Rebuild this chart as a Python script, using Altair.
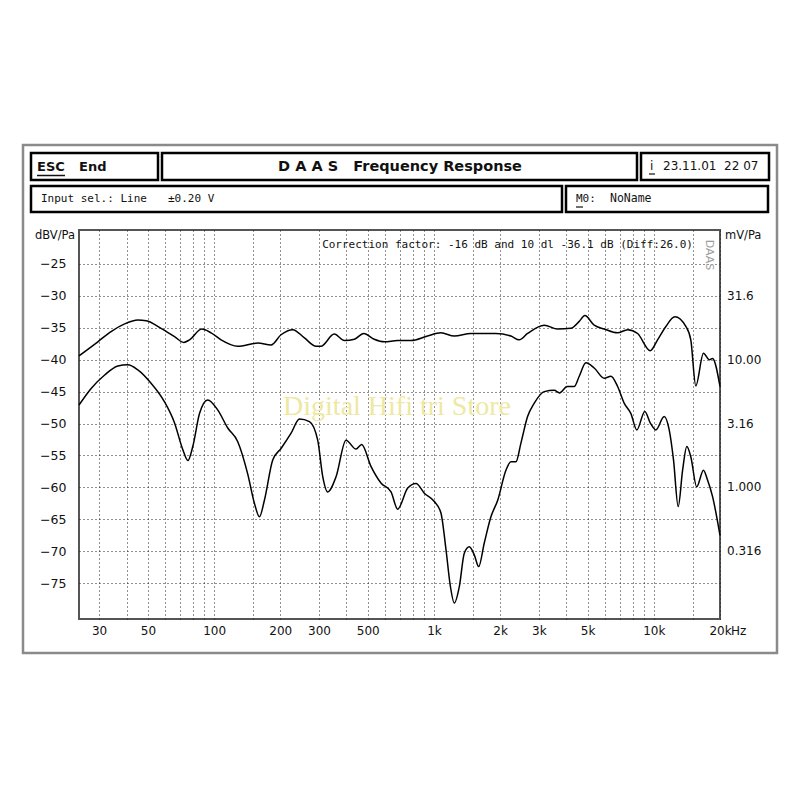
import altair as alt
import pandas as pd

# ---- data ----
upper_freq = [24.3, 29.6, 34.0, 39.2, 45.0, 49.1, 57.4, 66.1, 72.8, 77.3, 87.9, 96.9, 107.6, 128, 158, 181.6,
              201.6, 228, 257.6, 291, 306, 352, 391, 435, 479, 535, 595, 684, 786, 935, 1076, 1238, 1473, 1914,
              2239, 2443, 2666, 3175, 3650, 4195, 4580, 4857, 5355, 5950, 6844, 7600, 8440, 9634, 10400, 11350,
              12460, 13980, 14730, 15520, 16820, 17860, 18490, 20000]
upper_db = [-39.4, -37.2, -35.6, -34.4, -33.8, -33.9, -35.1, -36.4, -37.3, -36.9, -35.2, -35.8, -36.9, -37.9,
            -37.4, -37.7, -36.1, -35.3, -36.6, -37.9, -37.9, -36.0, -37.0, -36.8, -35.9, -36.8, -37.2, -37.0,
            -37.0, -36.3, -35.8, -36.3, -35.9, -35.9, -36.3, -36.9, -35.9, -34.6, -35.2, -35.1, -34.0, -33.1,
            -34.6, -35.2, -35.8, -35.3, -35.9, -38.6, -36.9, -34.8, -33.3, -34.8, -36.9, -44.1, -39.0, -40.0,
            -39.8, -44.2]

lower_freq = [24.3, 27.6, 31.8, 36.5, 40.5, 45.0, 51.7, 59.5, 66.1, 72.1, 76, 80, 85.9, 93.6, 104, 115.4, 128,
              142, 152.6, 160.8, 169.4, 184.8, 201.6, 224, 244.5, 271.5, 296, 312, 328.5, 359, 398, 442, 469, 517,
              574, 638, 684, 760, 829, 904, 1004, 1076, 1135, 1188, 1238, 1305, 1374, 1448, 1527, 1597, 1694,
              1816, 1950, 2125, 2239, 2360, 2485, 2666, 2860, 3175, 3525, 3725, 4036, 4342, 4580, 4910, 5355,
              5950, 6380, 6844, 7330, 7860, 8370, 9100, 9634, 10210, 11150, 11750, 12290, 12910, 13520, 14130,
              14730, 15670, 16820, 17540, 18490, 20000]
lower_db = [-47.1, -44.5, -42.4, -41.0, -40.8, -41.6, -43.7, -46.6, -49.9, -54.1, -55.8, -53.6, -48.4, -46.3,
            -47.9, -50.7, -52.8, -57.8, -62.5, -64.6, -62.0, -55.7, -53.9, -51.5, -49.3, -49.7, -52.6, -58.3,
            -60.7, -58.3, -52.6, -54.0, -53.3, -56.7, -59.3, -60.7, -63.4, -60.1, -59.4, -60.9, -62.2, -64.0,
            -69.8, -75.5, -78.1, -75.5, -70.3, -69.3, -70.6, -72.4, -68.7, -64.6, -62.0, -57.3, -56.0, -56.0,
            -53.1, -48.9, -46.8, -45.0, -44.8, -45.2, -44.2, -44.2, -42.6, -40.5, -41.3, -42.9, -42.6, -44.2,
            -46.8, -48.4, -51.0, -48.1, -49.9, -51.0, -48.9, -51.0, -55.7, -63.0, -57.3, -53.6, -55.2, -59.9,
            -57.3, -58.8, -61.4, -67.5]

x_grid = [30, 40, 50, 60, 70, 80, 90, 100, 150, 200, 300, 400, 500, 600, 700, 800, 900, 1000, 1500,
          2000, 3000, 4000, 5000, 6000, 7000, 8000, 9000, 10000, 15000, 20000]
x_labels = [30, 50, 100, 200, 300, 500, 1000, 2000, 3000, 5000, 10000, 20000]
y_ticks = [-25, -30, -35, -40, -45, -50, -55, -60, -65, -70, -75]
right_db = [-30, -40, -50, -60, -70]
right_labels = ["31.6", "10.00", "3.16", "1.000", "0.316"]

X_DOMAIN = [24.3, 20000]
Y_DOMAIN = [-80.6, -19.7]

# ---- layout (plot origin at page 79,230) ----
W, H = 641, 389
OX, OY = 79, 230
FONT = "DejaVu Sans"
MONO = "DejaVu Sans Mono"
NB = "\u00a0"

curves = pd.concat([
    pd.DataFrame({"f": upper_freq, "db": upper_db, "s": "upper"}),
    pd.DataFrame({"f": lower_freq, "db": lower_db, "s": "lower"}),
])

x_enc = alt.X("f:Q", scale=alt.Scale(type="log", domain=X_DOMAIN, nice=False),
              axis=alt.Axis(values=x_grid, title=None, tickSize=0, domain=False,
                            labelExpr="indexof(" + str(x_labels) + ", datum.value) >= 0 ? "
                                      "(datum.value >= 1000 ? (datum.value/1000) + 'k' : '' + datum.value) : ''",
                            labelOverlap=False, labelFlush=False, labelBound=False,
                            labelPadding=6, labelFontSize=12, labelFont=FONT, labelColor="#111",
                            grid=True, gridDash=[1, 3], gridColor="#222", gridWidth=1))
y_axis = alt.Axis(values=y_ticks, title=None, tickSize=0, domain=False,
                  labelOverlap=False, labelFlush=False, labelBound=False,
                  labelPadding=13, labelFontSize=12.5, labelFont=FONT, labelColor="#111",
                  grid=True, gridDash=[1, 3], gridColor="#222", gridWidth=1)
y_scale = alt.Scale(domain=Y_DOMAIN, nice=False, zero=False)

lines = alt.Chart(curves).mark_line(color="black", strokeWidth=1.5, interpolate="monotone").encode(
    x=x_enc, y=alt.Y("db:Q", scale=y_scale, axis=y_axis), detail="s:N")

right_df = pd.DataFrame({"db": right_db, "t": right_labels})
right_text = alt.Chart(right_df).mark_text(align="left", baseline="middle", fontSize=12, font=FONT,
                                           color="#111").encode(
    x=alt.value(W + 7),
    y=alt.Y("db:Q", scale=y_scale, axis=y_axis),
    text="t:N")

dummy = alt.Data(values=[{"a": 1}])


def rect(x1, y1, x2, y2, stroke="black", sw=2.5, fill="white"):
    kw = dict(fill=fill, stroke=stroke, strokeWidth=sw)
    return alt.Chart(dummy).mark_rect(**kw).encode(
        x=alt.value(x1 - OX), x2=alt.value(x2 - OX), y=alt.value(y1 - OY), y2=alt.value(y2 - OY))


def text(t, x, y, size=12, weight="normal", align="left", color="#111", font=FONT, angle=0):
    kw = dict(text=t.replace(" ", NB), align=align, baseline="middle", fontSize=size, fontWeight=weight,
              color=color, font=font)
    if angle:
        kw["angle"] = angle
    return alt.Chart(dummy).mark_text(**kw).encode(x=alt.value(x - OX), y=alt.value(y - OY))


def hline(x1, x2, y, sw=1):
    return alt.Chart(dummy).mark_rule(color="#111", strokeWidth=sw).encode(
        x=alt.value(x1 - OX), x2=alt.value(x2 - OX), y=alt.value(y - OY))


deco = [
    rect(23, 145, 777, 653, stroke="#8a8a8a", sw=2.5, fill="transparent"),
    rect(31, 153, 158, 180),
    rect(162, 153, 637, 180),
    rect(641, 153, 769, 180),
    rect(31, 186, 562, 212),
    rect(566, 186, 768, 212),
    text("ESC", 37, 167, size=13, weight="bold"),
    hline(37, 65, 175.5, sw=1.5),
    text("End", 79, 167, size=13, weight="bold"),
    text("D A A S   Frequency Response", 400, 167, size=14.5, weight="bold", align="center"),
    text("i", 650, 166, size=12),
    hline(649, 655, 174, sw=1.2),
    text("23.11.01  22 07", 663, 166, size=12),
    text("Input sel.: Line", 41, 199, size=11, font=MONO),
    text("±0.20 V", 168, 199, size=11, font=MONO),
    text("M0:", 576, 199, size=11, font=MONO),
    hline(576, 583, 207, sw=1.2),
    text("NoName", 610, 199, size=11.5, font=MONO),
    # watermark
    text("Digital Hifi tri Store", 397, 407, size=28, align="center", color="#eee8a2",
         font="Liberation Serif"),
    text("Correction factor: -16 dB and 10 dl -36.1 dB (Diff:26.0)", 693, 245, size=11,
         align="right", font=MONO),
    text("DAAS", 709, 255, size=11, align="center", color="#9a9a9a", angle=90),
    text("dBV/Pa", 35, 236, size=11.5),
    text("mV/Pa", 725, 236, size=11.5),
]

hz = alt.Chart(dummy).mark_text(text="Hz", align="left", baseline="middle", fontSize=12, font=FONT,
                                color="#111").encode(x=alt.value(W + 11), y=alt.value(H + 12))

chart = alt.layer(*deco, lines, right_text, hz).properties(
    width=W, height=H,
    padding={"left": OX - 8, "top": OY - 8, "right": 70, "bottom": 50},
    autosize=alt.AutoSizeParams(type="none"),
    background="white",
).configure_view(stroke="#555", strokeWidth=2)

chart.save("out.html", embed_options={"renderer": "svg", "actions": False})
